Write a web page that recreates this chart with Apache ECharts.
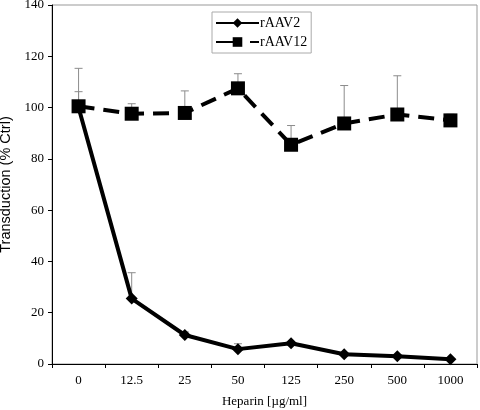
<!DOCTYPE html>
<html><head><meta charset="utf-8">
<script src="https://cdn.jsdelivr.net/npm/echarts@6/dist/echarts.min.js"></script>
<style>html,body{margin:0;padding:0;background:#fff}#c{width:480px;height:410px}</style>
</head><body><div id="c"></div>
<script>
const categories = ['0','12.5','25','50','125','250','500','1000'];
const rAAV2 = [100, 25.5, 11.3, 5.8, 8.1, 3.8, 3.0, 1.9];
const rAAV2Err = [106.2, 35.6, 12.5, 7.9, 8.1, 3.8, 3.0, 1.9];
const rAAV12 = [100.5, 97.6, 97.9, 107.5, 85.5, 93.8, 97.3, 95.0];
const rAAV12Err = [115.3, 101.5, 106.5, 113.2, 93.0, 108.6, 112.4, 97.4];
const yTicks = [0, 20, 40, 60, 80, 100, 120, 140];

function errSeries(vals, tops) {
  return {
    type: 'custom', silent: true, z: 1,
    data: vals.map((v, i) => [i, v, tops[i]]),
    renderItem: function (params, api) {
      const b = api.coord([api.value(0), api.value(1)]);
      const t = api.coord([api.value(0), api.value(2)]);
      const style = { stroke: '#8c8c8c', lineWidth: 1 };
      return { type: 'group', children: [
        { type: 'line', shape: { x1: b[0], y1: b[1], x2: t[0], y2: t[1] }, style: style },
        { type: 'line', shape: { x1: t[0] - 4, y1: t[1], x2: t[0] + 4, y2: t[1] }, style: style }
      ]};
    }
  };
}

const chart = echarts.init(document.getElementById('c'));
chart.setOption({
  animation: false,
  backgroundColor: '#fff',
  grid: { left: 52, right: 3, top: 5, bottom: 46, show: true, borderColor: '#999', borderWidth: 1,
    containLabel: false, outerBoundsMode: 'none' },
  legend: {
    orient: 'vertical', left: 212, top: 12, padding: [4, 4, 4, 3], itemGap: 5,
    itemWidth: 43, itemHeight: 12,
    backgroundColor: '#fff', borderColor: '#aaa', borderWidth: 1,
    textStyle: { fontFamily: 'Liberation Serif', fontSize: 14, color: '#000', padding: [0,0,0,-4] },
    data: [
      { name: 'rAAV2' },
      { name: 'rAAV12', lineStyle: { type: [19, 15, 9] } }
    ]
  },
  xAxis: {
    type: 'category', data: categories, boundaryGap: true,
    name: 'Heparin [µg/ml]', nameLocation: 'middle', nameGap: 31,
    nameTextStyle: { fontFamily: 'Liberation Serif', fontSize: 13, color: '#000' },
    axisLine: { lineStyle: { color: '#000', width: 1 } },
    axisTick: { show: true, inside: false, length: 4, lineStyle: { color: '#000' } },
    axisLabel: { fontFamily: 'Liberation Serif', fontSize: 13, color: '#000', margin: 10 },
    splitLine: { show: false }
  },
  yAxis: {
    type: 'value', min: 0, max: 140, interval: 20,
    name: 'Transduction (% Ctrl)', nameLocation: 'middle', nameGap: 35,
    nameTextStyle: { fontFamily: 'Liberation Sans', fontSize: 14.5, color: '#000' },
    axisLine: { show: true, lineStyle: { color: '#000', width: 1 } },
    axisTick: { show: true, inside: false, length: 4, lineStyle: { color: '#000' } },
    axisLabel: { fontFamily: 'Liberation Serif', fontSize: 13, color: '#000', margin: 8,
      formatter: v => yTicks.includes(v) ? String(v) : '' },
    splitLine: { show: false }
  },
  series: [
    errSeries(rAAV2, rAAV2Err),
    errSeries(rAAV12, rAAV12Err),
    {
      name: 'rAAV2', type: 'line', data: rAAV2, z: 3,
      symbol: 'diamond', symbolSize: 12,
      lineStyle: { color: '#000', width: 4 },
      itemStyle: { color: '#000' }
    },
    {
      name: 'rAAV12', type: 'line', data: rAAV12, z: 2,
      symbol: 'rect', symbolSize: 14,
      lineStyle: { color: '#000', width: 4, type: [16, 9] },
      itemStyle: { color: '#000' }
    }
  ]
});
</script></body></html>
